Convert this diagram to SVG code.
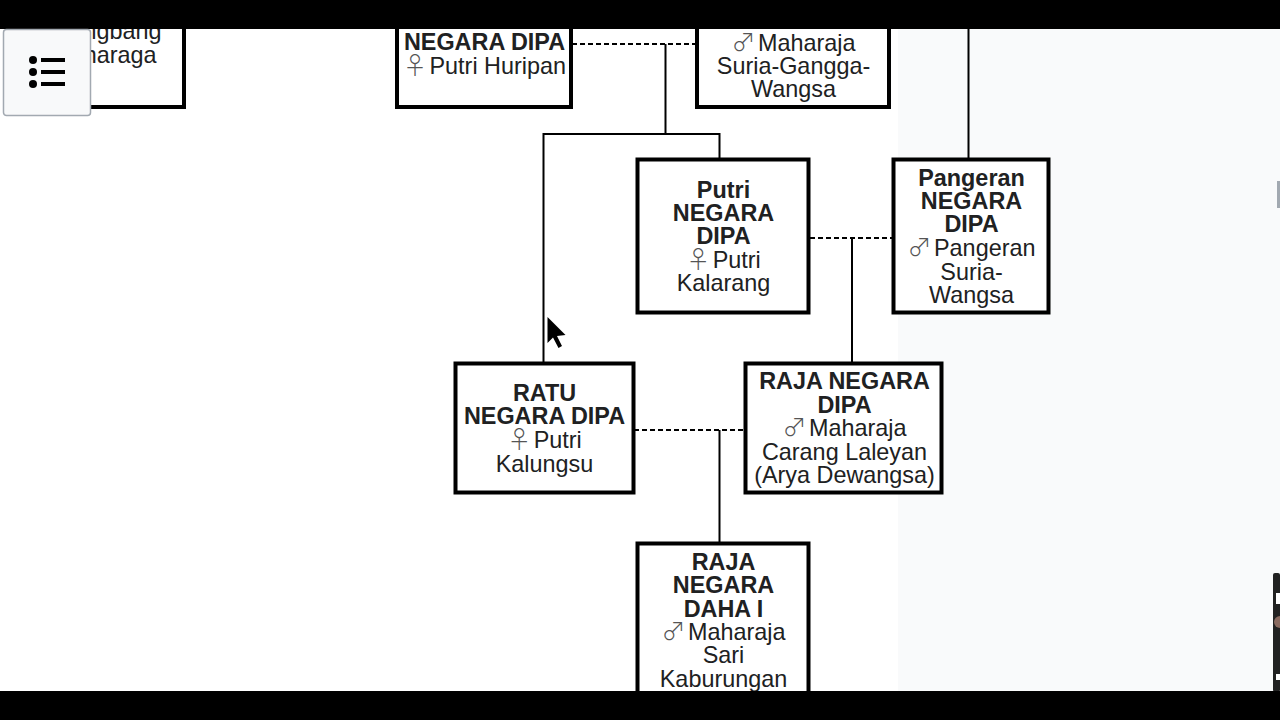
<svg xmlns="http://www.w3.org/2000/svg" width="1280" height="720" viewBox="0 0 1280 720">
<style>
.box{fill:#fff;stroke:#000;stroke-width:4}
.t{font-family:"Liberation Sans",Arial,sans-serif;font-size:23.4px;fill:#202122;text-anchor:middle;transform:translate(.5px,.5px)}
.b{font-weight:700}
.s{font-family:"Noto Sans CJK JP","Liberation Sans",sans-serif;font-weight:300;font-size:24px;fill:#555;letter-spacing:-4px}
.ln{fill:none;stroke:#000;stroke-width:2}
.d{stroke-dasharray:5 3}
</style>
<rect width="1280" height="720" fill="#fff"/>
<rect x="898" y="28" width="382" height="664" fill="#f9fafb"/>
<rect x="1277" y="181" width="3" height="27" fill="#a2a9b1"/>
<g id="connectors">
<path class="ln d" d="M572 44H696"/>
<path class="ln" d="M665.500 44V134M543.500 362V134H719.500V159M968.500 28V159"/>
<path class="ln d" d="M810 238H893"/>
<path class="ln" d="M852 238V363"/>
<path class="ln d" d="M634 430H745"/>
<path class="ln" d="M719.500 430V543"/>
</g>
<g id="node-left"><rect class="box" x="60" y="10" width="124" height="97"/><text class="t" style="text-anchor:end" x="161" y="38">Angbang</text><text class="t" style="text-anchor:end" x="156" y="62">Maharaga</text></g>
<g id="node-negara-dipa"><rect class="box" x="397" y="10" width="174" height="97"/><text class="t b" x="484" y="49">NEGARA DIPA</text><text class="t" x="484" y="73"><tspan class="s">♀</tspan> Putri Huripan</text></g>
<g id="node-maharaja-suria"><rect class="box" x="697" y="10" width="192" height="97"/><text class="t" x="793" y="50"><tspan class="s">♂</tspan> Maharaja</text><text class="t" x="793" y="73">Suria-Gangga-</text><text class="t" x="793" y="96">Wangsa</text></g>
<g id="node-putri"><rect class="box" x="637.500" y="159.500" width="171" height="153"/><text class="t b" x="723" y="197">Putri</text><text class="t b" x="723" y="220">NEGARA</text><text class="t b" x="723" y="243">DIPA</text><text class="t" x="723" y="267"><tspan class="s">♀</tspan> Putri</text><text class="t" x="723" y="290">Kalarang</text></g>
<g id="node-pangeran"><rect class="box" x="893.500" y="159.500" width="155" height="153"/><text class="t b" x="971" y="185">Pangeran</text><text class="t b" x="971" y="208">NEGARA</text><text class="t b" x="971" y="231">DIPA</text><text class="t" x="971" y="255"><tspan class="s">♂</tspan> Pangeran</text><text class="t" x="971" y="279">Suria-</text><text class="t" x="971" y="302">Wangsa</text></g>
<g id="node-ratu"><rect class="box" x="455.500" y="363.500" width="178" height="129"/><text class="t b" x="544" y="400">RATU</text><text class="t b" x="544" y="423">NEGARA DIPA</text><text class="t" x="544" y="447"><tspan class="s">♀</tspan> Putri</text><text class="t" x="544" y="471">Kalungsu</text></g>
<g id="node-raja-negara-dipa"><rect class="box" x="745.500" y="363.500" width="196" height="129"/><text class="t b" x="844" y="388">RAJA NEGARA</text><text class="t b" x="844" y="412">DIPA</text><text class="t" x="844" y="435"><tspan class="s">♂</tspan> Maharaja</text><text class="t" x="844" y="459">Carang Laleyan</text><text class="t" x="844" y="482">(Arya Dewangsa)</text></g>
<g id="node-raja-daha"><rect class="box" x="637.500" y="543.500" width="171" height="170"/><text class="t b" x="723" y="569">RAJA</text><text class="t b" x="723" y="592">NEGARA</text><text class="t b" x="723" y="616">DAHA I</text><text class="t" x="723" y="639"><tspan class="s">♂</tspan> Maharaja</text><text class="t" x="723" y="662">Sari</text><text class="t" x="723" y="686">Kaburungan</text></g>
<rect x="1273" y="573" width="7" height="119" rx="2" fill="#222"/>
<rect x="1276" y="593" width="4" height="11" fill="#fff"/>
<circle cx="1280" cy="622" r="6" fill="#8a6a60"/>
<rect x="1276" y="674" width="4" height="6" fill="#fff"/>
<rect width="1280" height="29" fill="#000"/>
<rect y="691" width="1280" height="29" fill="#000"/>
<g id="menu-button">
<rect x="3.500" y="29.500" width="87" height="86" rx="3" fill="#f8f9fa" stroke="#a2a9b1" stroke-width="1.500"/>
<circle cx="33" cy="60" r="4" fill="#000"/><circle cx="33" cy="72" r="4" fill="#000"/><circle cx="33" cy="84" r="4" fill="#000"/>
<rect x="41" y="58" width="24" height="4" fill="#000"/><rect x="41" y="70" width="24" height="4" fill="#000"/><rect x="41" y="82" width="24" height="4" fill="#000"/>
</g>
<path d="M547.500 317V343L553 337.500L558.500 348L562 346L557 336L565.500 335Z" fill="#000"/>
</svg>
